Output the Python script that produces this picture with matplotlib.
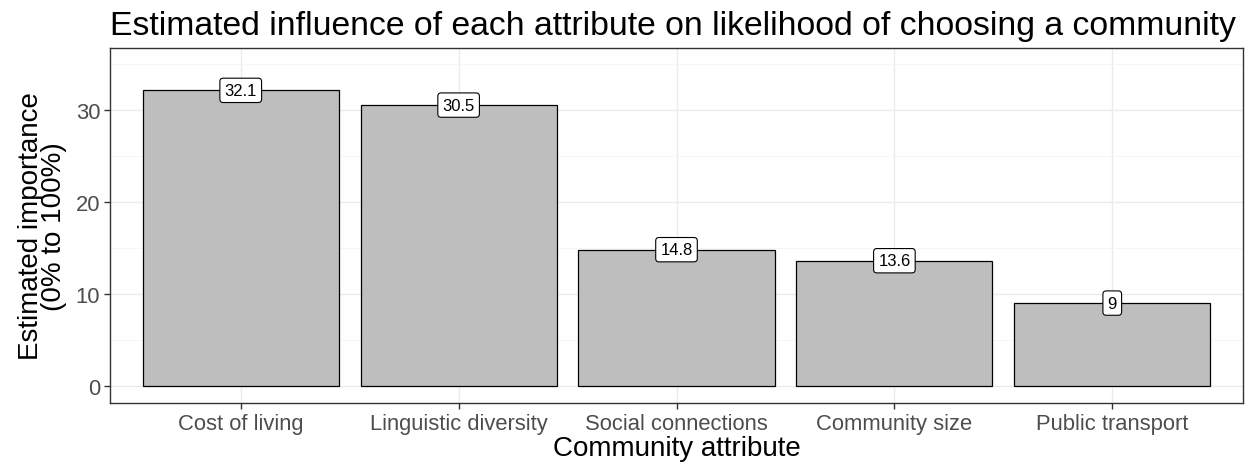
import numpy as np
import matplotlib.pyplot as plt

plt.rcParams['font.family'] = ['Liberation Sans', 'DejaVu Sans']

# data
attributes = ['Cost of living', 'Linguistic diversity', 'Social connections',
              'Community size', 'Public transport']
importance = [32.1, 30.5, 14.8, 13.6, 9]
labels = ['32.1', '30.5', '14.8', '13.6', '9']

fig = plt.figure(figsize=(12.6, 4.64), dpi=100)
ax = fig.add_axes([110 / 1260, 1 - 404 / 464, 1133 / 1260, 355 / 464])

x = np.arange(len(attributes))
ax.bar(x, importance, width=0.9, color='#BEBEBE', edgecolor='black', linewidth=0.9, zorder=3)

for xi, v, lab in zip(x, importance, labels):
    ax.text(xi, v, lab, ha='center', va='center', fontsize=12, zorder=4,
            bbox=dict(boxstyle='round,pad=0.28,rounding_size=0.2', fc='white', ec='black', lw=0.8))

ax.set_xlim(-0.6, 4.6)
ax.set_ylim(-1.85, 36.7)
ax.set_yticks([0, 10, 20, 30])
ax.set_yticks([5, 15, 25, 35], minor=True)
ax.set_xticks(x)
ax.set_xticklabels(attributes)

ax.grid(True, which='major', color='#EBEBEB', linewidth=1.0, zorder=0)
ax.grid(True, which='minor', axis='y', color='#F5F5F5', linewidth=0.6, zorder=0)
ax.set_axisbelow(True)

for s in ax.spines.values():
    s.set_color('#333333')
    s.set_linewidth(1.0)

ax.tick_params(axis='both', which='major', labelsize=15.8, labelcolor='#4D4D4D',
               color='#333333', length=4, width=1.0, pad=3)
ax.tick_params(axis='y', which='minor', length=0)

ax.set_xlabel('Community attribute', fontsize=20, labelpad=1)
ax.set_ylabel('Estimated importance\n(0% to 100%)', fontsize=20, labelpad=6, linespacing=0.85)
ax.set_title('Estimated influence of each attribute on likelihood of choosing a community',
             fontsize=24.3, loc='left', pad=10)

fig.savefig('out.png', dpi=100)
